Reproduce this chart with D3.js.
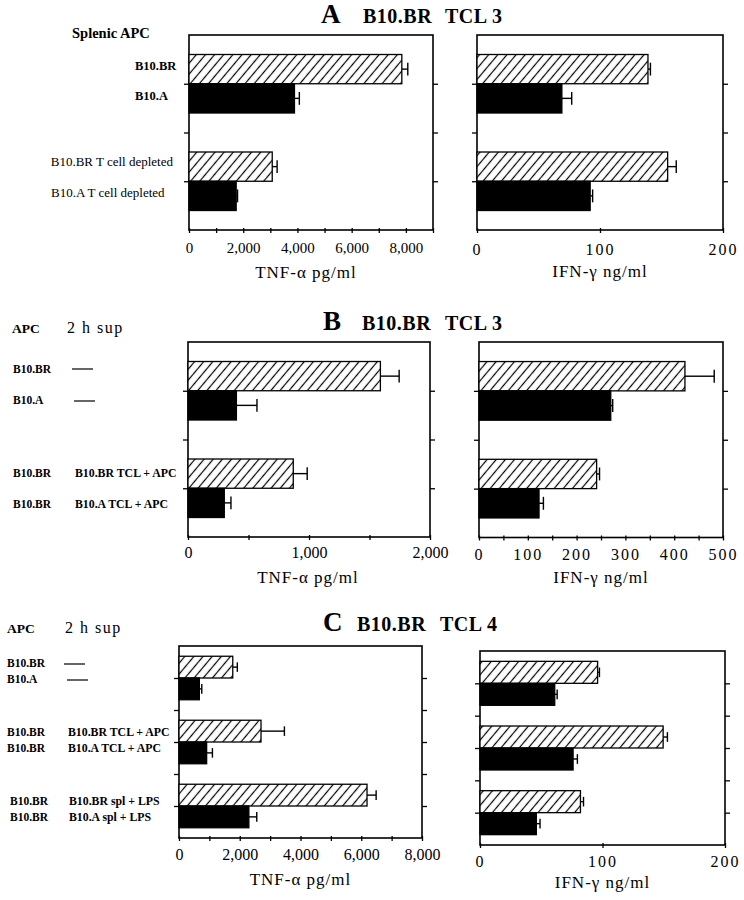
<!DOCTYPE html>
<html><head><meta charset="utf-8">
<script src="https://cdn.jsdelivr.net/npm/d3@7"></script>
<style>
body{margin:0;background:#fff;}
svg{display:block;}
text{font-family:"Liberation Serif","Times New Roman",serif;fill:#000;}
</style></head><body>
<svg id="chart" width="744" height="900"></svg>
<script>
// ================= DATA =================
// Panel A: B10.BR TCL 3, splenic APC (hatched = B10.BR APC, solid = B10.A APC)
const catA = ["Splenic APC", "T cell depleted"];
const tnfA_br = [7850, 3070];
const tnfA_brErr = [8070, 3250];
const tnfA_a = [3890, 1740];
const tnfA_aErr = [4070, 1790];
const ifnA_br = [139, 155];
const ifnA_brErr = [141, 162];
const ifnA_a = [69, 92];
const ifnA_aErr = [77, 94];

// Panel B: B10.BR TCL 3, 2 h supernatant
const catB = ["none", "TCL + APC"];
const tnfB_br = [1590, 870];
const tnfB_brErr = [1745, 985];
const tnfB_a = [400, 300];
const tnfB_aErr = [570, 355];
const ifnB_br = [422, 241];
const ifnB_brErr = [482, 247];
const ifnB_a = [270, 123];
const ifnB_aErr = [274, 132];

// Panel C: B10.BR TCL 4, 2 h supernatant
const catC = ["none", "TCL + APC", "spl + LPS"];
const tnfC_br = [1770, 2700, 6190];
const tnfC_brErr = [1920, 3470, 6490];
const tnfC_a = [670, 910, 2300];
const tnfC_aErr = [750, 1100, 2560];
const ifnC_br = [96, 149.5, 82];
const ifnC_brErr = [97.5, 153, 84.5];
const ifnC_a = [61, 76, 46];
const ifnC_aErr = [63, 79.5, 49];

// Tick values and labels
const tnfTicksA = [0,1000,2000,3000,4000,5000,6000,7000,8000,9000];
const tnfLabelsA = [0,2000,4000,6000,8000];
const ifnTicksA = [0,100,200];
const ifnLabelsA = [0,100,200];
const tnfTicksB = [0,500,1000,1500,2000];
const tnfLabelsB = [0,1000,2000];
const ifnTicksB = [0,50,100,150,200,250,300,350,400,450,500];
const ifnLabelsB = [0,100,200,300,400,500];
const tnfTicksC = [0,1000,2000,3000,4000,5000,6000,7000,8000];
const tnfLabelsC = [0,2000,4000,6000,8000];
const ifnTicksC = [0,100,200];
const ifnLabelsC = [0,100,200];

const tnfTitle = "TNF-\u03b1 pg/ml";
const ifnTitle = "IFN-\u03b3 ng/ml";

// ================= DRAWING =================
const svg = d3.select("#chart");
const defs = svg.append("defs");
const pat = defs.append("pattern").attr("id","hatch").attr("patternUnits","userSpaceOnUse")
  .attr("width",7).attr("height",10).attr("patternTransform","rotate(40)");
pat.append("rect").attr("width",7).attr("height",10).attr("fill","#fff");
pat.append("line").attr("x1",3.5).attr("x2",3.5).attr("y1",0).attr("y2",10)
  .attr("stroke","#000").attr("stroke-width",1.2);

const fmt = d3.format(",");

function txt(x, y, s, o = {}) {
  return svg.append("text").attr("x", x).attr("y", y).text(s)
    .attr("font-size", o.size || 12)
    .attr("font-weight", o.bold ? "bold" : "normal")
    .attr("text-anchor", o.anchor || "start")
    .attr("letter-spacing", o.ls || 0);
}

function panel(c) {
  const g = svg.append("g");
  const x = d3.scaleLinear().domain([c.ticks[0], c.ticks[c.ticks.length-1]]).range([c.x0, c.x1]);
  const n = c.cats.length;
  const y = d3.scaleLinear().domain([0.5, n + 0.5]).range([c.top, c.bottom]);
  const unit = (c.bottom - c.top) / n;
  const h = unit * c.barFrac;

  // frame
  g.append("rect").attr("x", c.x0).attr("y", c.top)
    .attr("width", c.x1 - c.x0).attr("height", c.bottom - c.top)
    .attr("fill", "none").attr("stroke", "#000").attr("stroke-width", 1.6);

  // y ticks (left and right, outward)
  const yt = d3.range(1, n + 0.01, 0.5);
  const la = g.append("g").attr("transform", `translate(${c.x0},0)`)
    .call(d3.axisLeft(y).tickValues(yt).tickSize(5).tickFormat(""));
  const ra = g.append("g").attr("transform", `translate(${c.x1},0)`)
    .call(d3.axisRight(y).tickValues(yt).tickSize(5).tickFormat(""));
  [la, ra].forEach(a => { a.select(".domain").remove(); a.selectAll("line").attr("stroke-width", 1.3); });

  // x axis
  const xa = g.append("g").attr("transform", `translate(0,${c.bottom})`)
    .call(d3.axisBottom(x).tickValues(c.ticks)
      .tickFormat(d => c.labels.includes(d) ? fmt(d) : "").tickSize(3));
  xa.select(".domain").remove();
  xa.selectAll(".tick line").attr("y1", -2).attr("y2", 3).attr("stroke-width", 1.3);
  xa.selectAll(".tick text").attr("y", c.tickDy).attr("dy", null)
    .attr("font-size", c.tickSize).attr("letter-spacing", c.tickLs || 0)
    .attr("font-family", '"Liberation Serif", serif').attr("fill", "#000");

  // bars
  const series = [
    { v: c.br, e: c.brErr, fill: "url(#hatch)", pos: -1 },
    { v: c.a, e: c.aErr, fill: "#000", pos: 0 }
  ];
  series.forEach(s => {
    s.v.forEach((val, i) => {
      const yc = y(i + 1);
      const yTop = s.pos < 0 ? yc - h : yc;
      g.append("rect").attr("x", x(0)).attr("y", yTop)
        .attr("width", x(val) - x(0)).attr("height", h)
        .attr("fill", s.fill).attr("stroke", "#000").attr("stroke-width", 1.3);
      const ym = yTop + h / 2;
      const cap = h * 0.22;
      g.append("line").attr("x1", x(val)).attr("x2", x(s.e[i])).attr("y1", ym).attr("y2", ym)
        .attr("stroke", "#000").attr("stroke-width", 1.4);
      g.append("line").attr("x1", x(s.e[i])).attr("x2", x(s.e[i])).attr("y1", ym - cap).attr("y2", ym + cap)
        .attr("stroke", "#000").attr("stroke-width", 1.4);
    });
  });

  // axis title
  txt((c.x0 + c.x1) / 2 + (c.titleShift || 0), c.titleY, c.title, { size: 17, anchor: "middle", ls: 1 });
}

// ---------- Panel A ----------
txt(321, 23, "A", { size: 27, bold: true });
txt(363, 23, "B10.BR", { size: 20, bold: true, ls: 0.5 });
txt(445, 23, "TCL 3", { size: 20, bold: true, ls: 0.5 });
txt(72, 38, "Splenic APC", { size: 14.5, bold: true });
txt(135, 70, "B10.BR", { size: 12.5, bold: true });
txt(135, 100, "B10.A", { size: 12.5, bold: true });
txt(173, 166, "B10.BR T cell depleted", { size: 13, anchor: "end" });
txt(51, 197, "B10.A T cell depleted", { size: 13 });

panel({ cats: catA, br: tnfA_br, brErr: tnfA_brErr, a: tnfA_a, aErr: tnfA_aErr,
  ticks: tnfTicksA, labels: tnfLabelsA, x0: 189, x1: 433, top: 35, bottom: 230, barFrac: 0.3,
  tickDy: 23, tickSize: 15, title: tnfTitle, titleY: 278, titleShift: -5 });
panel({ cats: catA, br: ifnA_br, brErr: ifnA_brErr, a: ifnA_a, aErr: ifnA_aErr,
  ticks: ifnTicksA, labels: ifnLabelsA, x0: 477, x1: 723, top: 35, bottom: 230, barFrac: 0.3,
  tickDy: 25, tickSize: 16, tickLs: 2, title: ifnTitle, titleY: 277 });

// ---------- Panel B ----------
txt(323, 330, "B", { size: 27, bold: true });
txt(362, 330, "B10.BR", { size: 20, bold: true, ls: 0.5 });
txt(445, 330, "TCL 3", { size: 20, bold: true, ls: 0.5 });
txt(12, 333, "APC", { size: 13.5, bold: true });
txt(67, 333, "2 h sup", { size: 16, ls: 1.5 });
const bLabels = [["B10.BR", 373, "\u2014\u2014", 72, 369], ["B10.A", 404, "\u2014\u2014", 74, 401],
  ["B10.BR", 477, "B10.BR TCL + APC", 75, 477], ["B10.BR", 508, "B10.A TCL + APC", 75, 508]];
bLabels.forEach(r => {
  txt(13, r[1], r[0], { size: 11.5, bold: true });
  if (r[2].startsWith("\u2014")) {
    svg.append("line").attr("x1", r[3]).attr("x2", r[3] + 21).attr("y1", r[4]).attr("y2", r[4])
      .attr("stroke", "#000").attr("stroke-width", 1.2);
  } else txt(r[3], r[4], r[2], { size: 11.8, bold: true });
});

panel({ cats: catB, br: tnfB_br, brErr: tnfB_brErr, a: tnfB_a, aErr: tnfB_aErr,
  ticks: tnfTicksB, labels: tnfLabelsB, x0: 188, x1: 430, top: 342, bottom: 537, barFrac: 0.3,
  tickDy: 21, tickSize: 16, title: tnfTitle, titleY: 583, titleShift: -1 });
panel({ cats: catB, br: ifnB_br, brErr: ifnB_brErr, a: ifnB_a, aErr: ifnB_aErr,
  ticks: ifnTicksB, labels: ifnLabelsB, x0: 479, x1: 723, top: 342, bottom: 537.5, barFrac: 0.3,
  tickDy: 22, tickSize: 16, tickLs: 2, title: ifnTitle, titleY: 583 });

// ---------- Panel C ----------
txt(323, 631, "C", { size: 27, bold: true });
txt(357, 631, "B10.BR", { size: 20, bold: true, ls: 0.5 });
txt(440, 631, "TCL 4", { size: 20, bold: true, ls: 0.5 });
txt(7, 633, "APC", { size: 13.5, bold: true });
txt(65, 633, "2 h sup", { size: 16, ls: 1.5 });
const cLabels = [["B10.BR", 7, 667, "\u2014", 64, 664], ["B10.A", 7, 683, "\u2014", 67, 680],
  ["B10.BR", 7, 736, "B10.BR TCL + APC", 68, 736], ["B10.BR", 7, 752, "B10.A TCL + APC", 68, 752],
  ["B10.BR", 10, 805, "B10.BR spl + LPS", 69, 805], ["B10.BR", 10, 821, "B10.A spl + LPS", 69, 821]];
cLabels.forEach(r => {
  txt(r[1], r[2], r[0], { size: 11.5, bold: true });
  if (r[3] === "\u2014") {
    svg.append("line").attr("x1", r[4]).attr("x2", r[4] + 21).attr("y1", r[5]).attr("y2", r[5])
      .attr("stroke", "#000").attr("stroke-width", 1.2);
  } else txt(r[4], r[5], r[3], { size: 11.8, bold: true });
});

panel({ cats: catC, br: tnfC_br, brErr: tnfC_brErr, a: tnfC_a, aErr: tnfC_aErr,
  ticks: tnfTicksC, labels: tnfLabelsC, x0: 179, x1: 422, top: 646, bottom: 838, barFrac: 0.34,
  tickDy: 22, tickSize: 16, title: tnfTitle, titleY: 885, titleShift: 0 });
panel({ cats: catC, br: ifnC_br, brErr: ifnC_brErr, a: ifnC_a, aErr: ifnC_aErr,
  ticks: ifnTicksC, labels: ifnLabelsC, x0: 480, x1: 725, top: 651, bottom: 845, barFrac: 0.34,
  tickDy: 22, tickSize: 16, tickLs: 2, title: ifnTitle, titleY: 888 });
</script>
</body></html>
